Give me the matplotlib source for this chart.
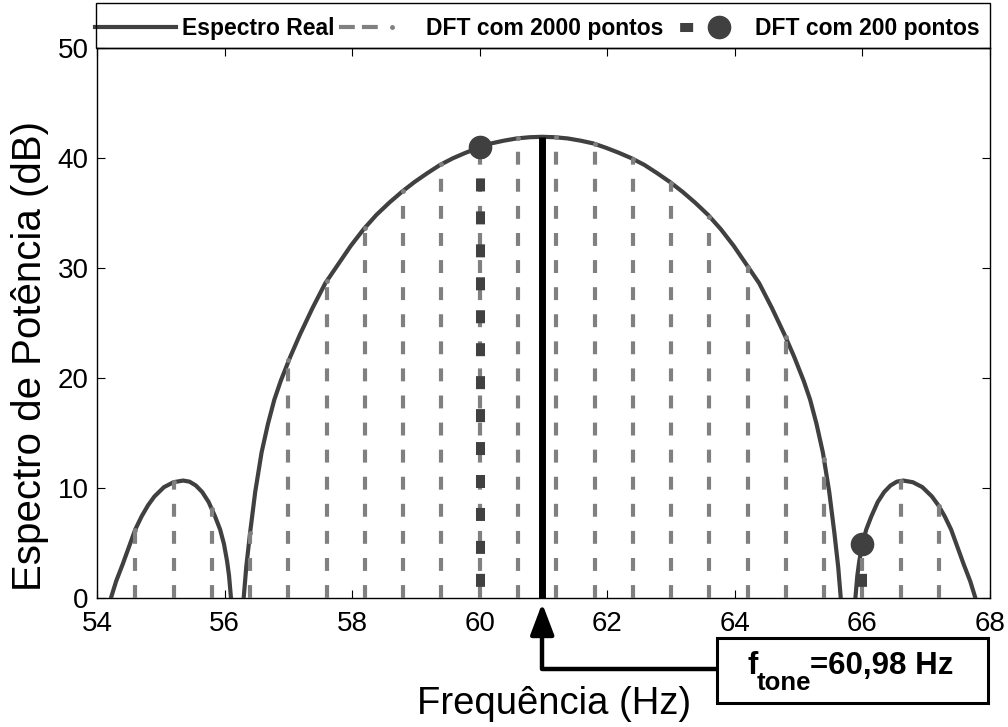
import matplotlib
matplotlib.use("Agg")
import matplotlib.pyplot as plt
from matplotlib.lines import Line2D
from matplotlib.patches import Rectangle
from matplotlib.legend_handler import HandlerBase

# ---------------- data ----------------
freq_real = [54.14, 54.22, 54.30, 54.40, 54.50, 54.60, 54.70, 54.80, 54.90, 55.05,
             55.20, 55.35, 55.45, 55.55, 55.65, 55.75, 55.85, 55.93, 55.99, 56.04,
             56.07, 56.10, 56.20,
             56.30, 56.34, 56.40, 56.48, 56.58, 56.68, 56.78, 56.88, 57.03, 57.18,
             57.38, 57.58, 57.78, 57.98, 58.18, 58.38, 58.58, 58.78, 58.98, 59.18,
             59.38, 59.58, 59.78, 59.98, 60.18, 60.38, 60.58, 60.78, 60.98, 61.18,
             61.38, 61.58, 61.78, 61.98, 62.18, 62.38, 62.58, 62.78, 62.98, 63.18,
             63.38, 63.58, 63.78, 63.98, 64.18, 64.38, 64.58, 64.78, 64.93, 65.08,
             65.18, 65.28, 65.38, 65.48, 65.56, 65.62, 65.66, 65.76,
             65.89, 65.92, 65.95, 66.00, 66.06, 66.14, 66.24, 66.34, 66.44, 66.54,
             66.64, 66.79, 66.94, 67.09, 67.19, 67.29, 67.39, 67.49, 67.59, 67.69,
             67.77, 67.85]
spec_real = [-20.0, 0.0, 1.5, 3.0, 4.6, 6.2, 7.4, 8.4, 9.2, 10.05,
             10.5, 10.65, 10.55, 10.2, 9.6, 8.7, 7.4, 6.2, 4.9, 3.3,
             2.0, 0.0, -20.0,
             0.0, 2.8, 5.9, 9.6, 13.2, 15.8, 18.0, 19.7, 21.9, 23.9,
             26.35, 28.6, 30.3, 32.0, 33.5, 34.8, 35.9, 36.9, 37.8, 38.6,
             39.35, 39.95, 40.45, 40.9, 41.3, 41.55, 41.75, 41.86, 41.9, 41.86,
             41.75, 41.55, 41.3, 40.9, 40.45, 39.95, 39.35, 38.6, 37.8, 36.9,
             35.9, 34.8, 33.5, 32.0, 30.3, 28.6, 26.35, 23.9, 21.9, 19.7,
             18.0, 15.8, 13.2, 9.6, 5.9, 2.8, 0.0, -20.0,
             0.0, 2.0, 3.3, 4.9, 6.2, 7.4, 8.7, 9.6, 10.2, 10.55,
             10.65, 10.5, 10.05, 9.2, 8.4, 7.4, 6.2, 4.6, 3.0, 1.5,
             0.0, -20.0]

dft2000_freq = [54.6, 55.2, 55.8, 56.4, 57.0, 57.6, 58.2, 58.8, 59.4, 60.0, 60.6,
                61.2, 61.8, 62.4, 63.0, 63.6, 64.2, 64.8, 65.4, 66.0, 66.6, 67.2]
dft2000_db = [6.2, 10.5, 8.1, 5.9, 21.65, 28.8, 33.6, 37.0, 39.4, 40.95, 41.76,
              41.85, 41.25, 39.9, 37.7, 34.65, 30.1, 23.7, 12.6, 4.9, 10.63, 8.3]

dft200_freq = [60.0, 66.0]
dft200_db = [40.95, 4.9]

f_tone = 60.98
peak_db = 41.9

x_ticks = [54, 56, 58, 60, 62, 64, 66, 68]
y_ticks = [0, 10, 20, 30, 40, 50]
legend_labels = ["Espectro Real", "DFT com 2000 pontos", "DFT com 200 pontos"]
x_label = "Frequência (Hz)"
y_label = "Espectro de Potência (dB)"
annot_main = "f"
annot_sub = "tone"
annot_value = "=60,98 Hz"

# ---------------- style ----------------
plt.rcParams["font.family"] = ["Liberation Sans", "DejaVu Sans"]
C_REAL = "#404040"
C_2000 = "#808080"
C_200 = "#404040"

W, H = 1008, 727
fig = plt.figure(figsize=(W / 100, H / 100), dpi=100)
ax_l, ax_r, ax_t, ax_b = 97, 990, 47.7, 597.7
ax = fig.add_axes([ax_l / W, 1 - ax_b / H, (ax_r - ax_l) / W, (ax_b - ax_t) / H])

# real spectrum
ax.plot(freq_real, spec_real, color=C_REAL, lw=3, zorder=3, solid_joinstyle="round")

# DFT 2000 points (stems)
ax.vlines(dft2000_freq, 0, dft2000_db, colors=C_2000, linewidth=3,
          linestyles=[(0, (3.1, 3.4))], zorder=4)
ax.plot(dft2000_freq, dft2000_db, ls="none", marker="o", ms=3.5, color=C_2000,
        mec="none", zorder=4)

# DFT 200 points (stems)
ax.vlines(dft200_freq, 0, dft200_db, colors=C_200, linewidth=6.5,
          linestyles=[(2.36, (1.44, 2.21))], zorder=5)
ax.plot(dft200_freq, dft200_db, ls="none", marker="o", ms=16, color=C_200,
        mec=C_200, zorder=6)

# tone frequency
ax.plot([f_tone, f_tone], [0, peak_db], color="black", lw=5,
        solid_capstyle="butt", zorder=7)

ax.set_xlim(x_ticks[0], x_ticks[-1])
ax.set_ylim(y_ticks[0], y_ticks[-1])
ax.set_xticks(x_ticks)
ax.set_yticks(y_ticks)
ax.tick_params(direction="in", length=6, width=0.8, top=True, right=True,
               labelsize=20, colors="black")
ax.tick_params(axis="x", pad=9.5)
ax.tick_params(axis="y", pad=6)
for s in ax.spines.values():
    s.set_linewidth(1.0)
    s.set_color("black")

ax.set_xlabel(x_label, fontsize=27.5)
ax.xaxis.set_label_coords((554 - ax_l) / (ax_r - ax_l), (ax_b - 714) / (ax_b - ax_t))
ax.xaxis.label.set_verticalalignment("baseline")
ax.set_ylabel(y_label, fontsize=29)
ax.yaxis.set_label_coords((41 - ax_l) / (ax_r - ax_l), (ax_b - 356) / (ax_b - ax_t))
ax.yaxis.label.set_verticalalignment("baseline")

# ---------------- legend ----------------
class StemLegendHandler(HandlerBase):
    def __init__(self, line_end, marker_pos, **kw):
        super().__init__(**kw)
        self.line_end = line_end
        self.marker_pos = marker_pos

    def create_artists(self, legend, orig_handle, xdescent, ydescent, width,
                       height, fontsize, trans):
        y = (height - ydescent) / 2
        x0 = -xdescent
        ln = Line2D([x0, x0 + width * self.line_end], [y, y])
        ln.update_from(orig_handle)
        ln.set_marker("None")
        mk = Line2D([x0 + width * self.marker_pos], [y])
        mk.update_from(orig_handle)
        mk.set_linestyle("None")
        ln.set_transform(trans)
        mk.set_transform(trans)
        return [ln, mk]

h1 = Line2D([], [], color=C_REAL, lw=3)
h2 = Line2D([], [], color=C_2000, lw=3, ls=(0, (3.8, 1.7)), marker="o", ms=3.5,
            mec="none")
h3 = Line2D([], [], color=C_200, lw=6.5, ls=(2.36, (1.44, 2.21)), marker="o", ms=16)
lg_x0, lg_x1, lg_y0, lg_y1 = 96, 990, 3, 47.7
leg = ax.legend([h1, h2, h3], legend_labels, loc="center left",
                bbox_to_anchor=(94.5 / W, 1 - ((lg_y0 + lg_y1) / 2 + 3) / H),
                bbox_transform=fig.transFigure, ncol=3,
                borderaxespad=0, borderpad=0, frameon=False,
                prop={"weight": "bold", "size": 16.5},
                handlelength=3.55, handletextpad=0.25, columnspacing=0.2,
                handler_map={h2: StemLegendHandler(0.49, 0.66),
                             h3: StemLegendHandler(0.39, 0.63)})
fig.patches.append(Rectangle((lg_x0 / W, 1 - lg_y1 / H), (lg_x1 - lg_x0) / W,
                             (lg_y1 - lg_y0) / H, transform=fig.transFigure,
                             facecolor="none", edgecolor="black", lw=1.0,
                             zorder=6))

# ---------------- annotation ----------------
bx0, by0, bx1, by1 = 716.7, 638, 988, 703
fig.patches.append(Rectangle((bx0 / W, 1 - by1 / H), (bx1 - bx0) / W, (by1 - by0) / H,
                             transform=fig.transFigure, facecolor="white",
                             edgecolor="black", lw=2.2, zorder=5))
fig.text(747 / W, 1 - 674 / H, annot_main, fontsize=22.5, weight="bold",
         ha="left", va="baseline", zorder=6)
fig.text(757 / W, 1 - 690 / H, annot_sub, fontsize=18.5, weight="bold",
         ha="left", va="baseline", zorder=6)
fig.text(810.5 / W, 1 - 674 / H, annot_value, fontsize=22.5, weight="bold",
         ha="left", va="baseline", zorder=6)

ax.annotate("", xy=(f_tone, -(603.3 - ax_b) / (ax_b - ax_t)),
            xycoords=("data", "axes fraction"),
            xytext=(bx0, H - 669.3), textcoords="figure pixels",
            annotation_clip=False,
            arrowprops=dict(arrowstyle="-|>,head_length=0.95,head_width=0.36",
                            mutation_scale=20, lw=3.2, color="black",
                            shrinkA=0, shrinkB=0,
                            connectionstyle="angle,angleA=0,angleB=90,rad=0"))

fig.savefig("out.png", dpi=100, facecolor="white")
